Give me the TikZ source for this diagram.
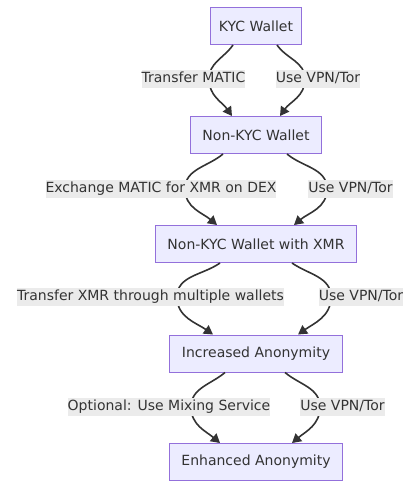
\documentclass[tikz,border=0pt]{standalone}
\usepackage{fontspec}
\setmainfont{DejaVu Sans}
\usetikzlibrary{arrows.meta}
\definecolor{boxfill}{HTML}{ECECFF}
\definecolor{boxline}{HTML}{9370DB}
\definecolor{ink}{HTML}{333333}
\definecolor{lblfill}{HTML}{EBEBEB}
\tikzset{
    wallet/.style={draw=boxline, fill=boxfill, line width=1pt, text=ink, font=\fontsize{14}{16}\selectfont,
        minimum height=37pt, inner xsep=12pt},
    flow/.style={draw=ink, line width=1.6pt, -{Triangle[length=9pt,width=10pt]}},
    lbl/.style={fill=lblfill, text=ink, font=\fontsize{14}{16}\selectfont, inner xsep=0pt, inner ysep=1.5pt,
        text height=11pt, text depth=3.5pt}
}
\begin{document}
\begin{tikzpicture}[x=1pt, y=-1pt]
    \useasboundingbox (0,0) rectangle (416,489);

    \node[wallet, inner xsep=8.5pt] (kyc) at (256,26) {KYC Wallet};
    \node[wallet] (nokyc) at (256,135) {Non-KYC Wallet};
    \node[wallet] (xmr) at (256,244) {Non-KYC Wallet with XMR};
    \node[wallet] (anon) at (256,353.5) {Increased Anonymity};
    \node[wallet] (enh) at (256,462) {Enhanced Anonymity};

    \coordinate (t1) at (209,79);
    \coordinate (v1) at (305,79);
    \coordinate (t2) at (185,189);
    \coordinate (v2) at (327,189);
    \coordinate (t3) at (177,297);
    \coordinate (v3) at (331,297);
    \coordinate (t4) at (191,407);
    \coordinate (v4) at (320,407);

    \draw[flow] ([xshift=-23]kyc.south) to[out=-125,in=90] (t1) to[out=-90,in=125] ([xshift=-24]nokyc.north);
    \draw[flow] ([xshift=21]kyc.south) to[out=-55,in=90] (v1) to[out=-90,in=55] ([xshift=24]nokyc.north);
    \draw[flow] ([xshift=-33]nokyc.south) to[out=-140,in=90] (t2) to[out=-90,in=140] ([xshift=-39]xmr.north);
    \draw[flow] ([xshift=31]nokyc.south) to[out=-40,in=90] (v2) to[out=-90,in=40] ([xshift=38]xmr.north);
    \draw[flow] ([xshift=-36]xmr.south) to[out=-145,in=90] (t3) to[out=-90,in=145] ([xshift=-43]anon.north);
    \draw[flow] ([xshift=36]xmr.south) to[out=-35,in=90] (v3) to[out=-90,in=35] ([xshift=42]anon.north);
    \draw[flow] ([xshift=-31]anon.south) to[out=-140,in=90] (t4) to[out=-90,in=140] ([xshift=-36]enh.north);
    \draw[flow] ([xshift=29]anon.south) to[out=-40,in=90] (v4) to[out=-90,in=40] ([xshift=36]enh.north);

    \node[lbl] (lt1) at (193.5,79) {Transfer MATIC};
    \node[lbl] (lv1) at (318,79) {Use VPN/Tor};
    \node[lbl] (lt2) at (161,189) {Exchange MATIC for XMR on DEX};
    \node[lbl] (lv2) at (350.5,189) {Use VPN/Tor};
    \node[lbl] (lt3) at (150.5,297) {Transfer XMR through multiple wallets};
    \node[lbl] (lv3) at (361,297) {Use VPN/Tor};
    \node[lbl] (lt4) at (169,407) {Optional: Use Mixing Service};
    \node[lbl] (lv4) at (342.5,407) {Use VPN/Tor};
\end{tikzpicture}
\end{document}
